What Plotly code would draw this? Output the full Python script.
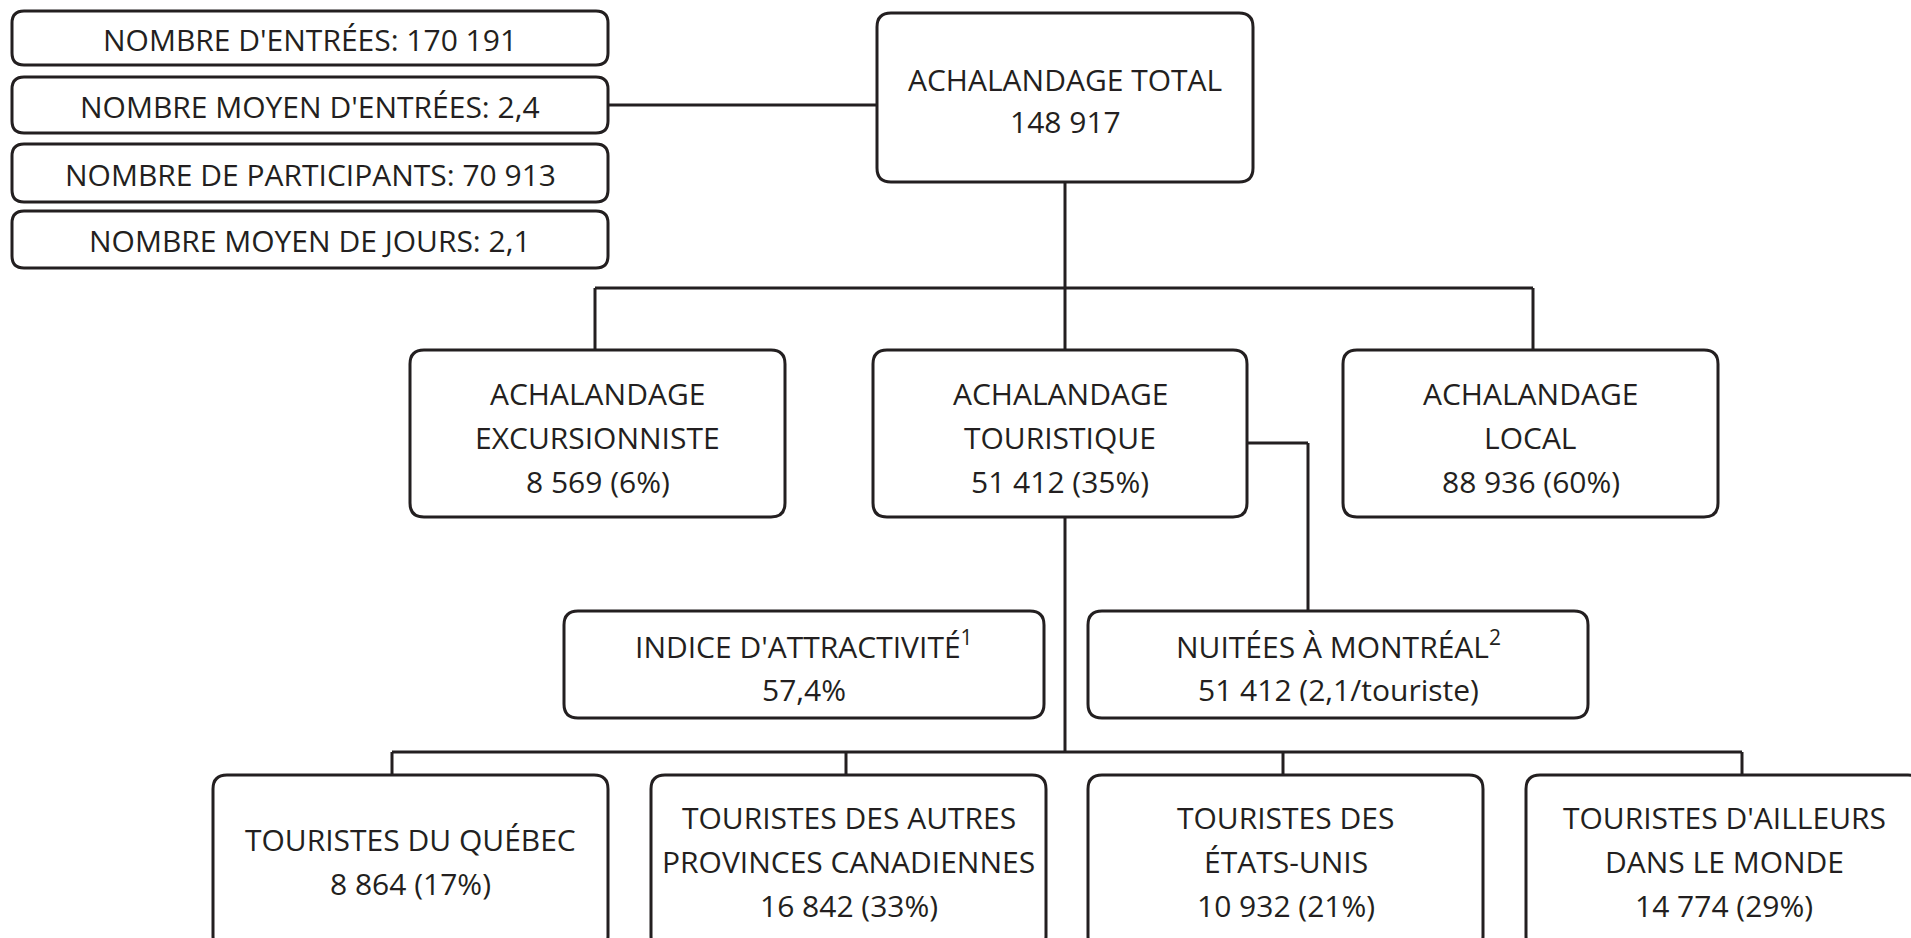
import plotly.graph_objects as go

W, H = 1911, 938
INK = "#231f20"
FONT = "Open Sans"
FS = 30

# ---------------- data ----------------
total_label = "ACHALANDAGE TOTAL"
total_value = 148917
stat_labels = ["NOMBRE D'ENTRÉES", "NOMBRE MOYEN D'ENTRÉES",
               "NOMBRE DE PARTICIPANTS", "NOMBRE MOYEN DE JOURS"]
stat_values = ["170 191", "2,4", "70 913", "2,1"]
segment_labels = [["ACHALANDAGE", "EXCURSIONNISTE"],
                  ["ACHALANDAGE", "TOURISTIQUE"],
                  ["ACHALANDAGE", "LOCAL"]]
segment_counts = [8569, 51412, 88936]
segment_shares = [6, 35, 60]
indice_label = "INDICE D'ATTRACTIVITÉ<sup>1</sup>"
indice_value = "57,4%"
nuitees_label = "NUITÉES À MONTRÉAL<sup>2</sup>"
nuitees_count = 51412
nuitees_per_tourist = "2,1"
origin_labels = [["TOURISTES DU QUÉBEC"],
                 ["TOURISTES DES AUTRES", "PROVINCES CANADIENNES"],
                 ["TOURISTES DES", "ÉTATS-UNIS"],
                 ["TOURISTES D'AILLEURS", "DANS LE MONDE"]]
origin_counts = [8864, 16842, 10932, 14774]
origin_shares = [17, 33, 21, 29]

# ---------------- layout geometry ----------------
stat_x = (12, 608)
stat_y = [(11, 65), (77, 133), (144, 202), (211, 268)]
total_box = (877, 13, 1253, 182)
mid_boxes = [(410, 350, 785, 517), (873, 350, 1247, 517), (1343, 350, 1718, 517)]
indice_box = (564, 611, 1044, 718)
nuitees_box = (1088, 611, 1588, 718)
bottom_boxes = [(213, 775, 608, 950), (651, 775, 1046, 950),
                (1088, 775, 1483, 950), (1526, 775, 1922, 950)]


def fmt(n):
    return f"{n:,}".replace(",", " ")


def rrect(x0, y0, x1, y1, r):
    return (f"M{x0+r},{y0} L{x1-r},{y0} Q{x1},{y0} {x1},{y0+r} "
            f"L{x1},{y1-r} Q{x1},{y1} {x1-r},{y1} L{x0+r},{y1} "
            f"Q{x0},{y1} {x0},{y1-r} L{x0},{y0+r} Q{x0},{y0} {x0+r},{y0} Z")


shapes = []
annotations = []


def box(b, r=14):
    shapes.append(dict(type="path", path=rrect(*b, r), xref="x", yref="y",
                       line=dict(color=INK, width=3), fillcolor="white", layer="above"))


def line(x0, y0, x1, y1):
    shapes.append(dict(type="line", x0=x0, y0=y0, x1=x1, y1=y1, xref="x", yref="y",
                       line=dict(color=INK, width=3), layer="below"))


def text_lines(lines, cx, cy, gap):
    n = len(lines)
    for i, t in enumerate(lines):
        y = cy + (i - (n - 1) / 2) * gap
        annotations.append(dict(x=cx, y=y, xref="x", yref="y", text=t, showarrow=False,
                                xanchor="center", yanchor="middle",
                                font=dict(family=FONT, size=FS, color=INK)))


# connectors
line(608, 105, 877, 105)
line(1065, 182, 1065, 350)
line(595, 288, 1533, 288)
line(595, 288, 595, 350)
line(1533, 288, 1533, 350)
line(1065, 517, 1065, 752)
line(1247, 443, 1308, 443)
line(1308, 443, 1308, 611)
line(392, 752, 1742, 752)
for xc in [392, 846, 1283, 1742]:
    line(xc, 752, xc, 775)

# boxes + text
for (y0, y1), lab, val in zip(stat_y, stat_labels, stat_values):
    box((stat_x[0], y0, stat_x[1], y1), r=12)
    text_lines([f"{lab}: {val}"], (stat_x[0] + stat_x[1]) / 2, (y0 + y1) / 2 + 1, 44)

box(total_box)
text_lines([total_label, fmt(total_value)], (total_box[0] + total_box[2]) / 2, 100, 42)

for b, labs, n, s in zip(mid_boxes, segment_labels, segment_counts, segment_shares):
    box(b)
    text_lines(labs + [f"{fmt(n)} ({s}%)"], (b[0] + b[2]) / 2, 437, 44)

box(indice_box)
text_lines([indice_label, indice_value], (indice_box[0] + indice_box[2]) / 2, 667, 45)
box(nuitees_box)
text_lines([nuitees_label, f"{fmt(nuitees_count)} ({nuitees_per_tourist}/touriste)"],
           (nuitees_box[0] + nuitees_box[2]) / 2, 667, 45)

for b, labs, n, s in zip(bottom_boxes, origin_labels, origin_counts, origin_shares):
    box(b)
    text_lines(labs + [f"{fmt(n)} ({s}%)"], (b[0] + b[2]) / 2, 861, 44)

fig = go.Figure()
fig.add_trace(go.Scatter(x=[0, W], y=[0, H], mode="markers",
                         marker=dict(opacity=0), hoverinfo="skip", showlegend=False))
fig.update_layout(
    width=W, height=H, margin=dict(l=0, r=0, t=0, b=0),
    paper_bgcolor="white", plot_bgcolor="white",
    xaxis=dict(range=[0, W], visible=False, fixedrange=True),
    yaxis=dict(range=[H, 0], visible=False, fixedrange=True),
    shapes=shapes, annotations=annotations, showlegend=False,
)
fig.write_html("out.html", config={"displayModeBar": False},
               post_script="document.body.style.margin='0';document.body.style.overflow='hidden';")
